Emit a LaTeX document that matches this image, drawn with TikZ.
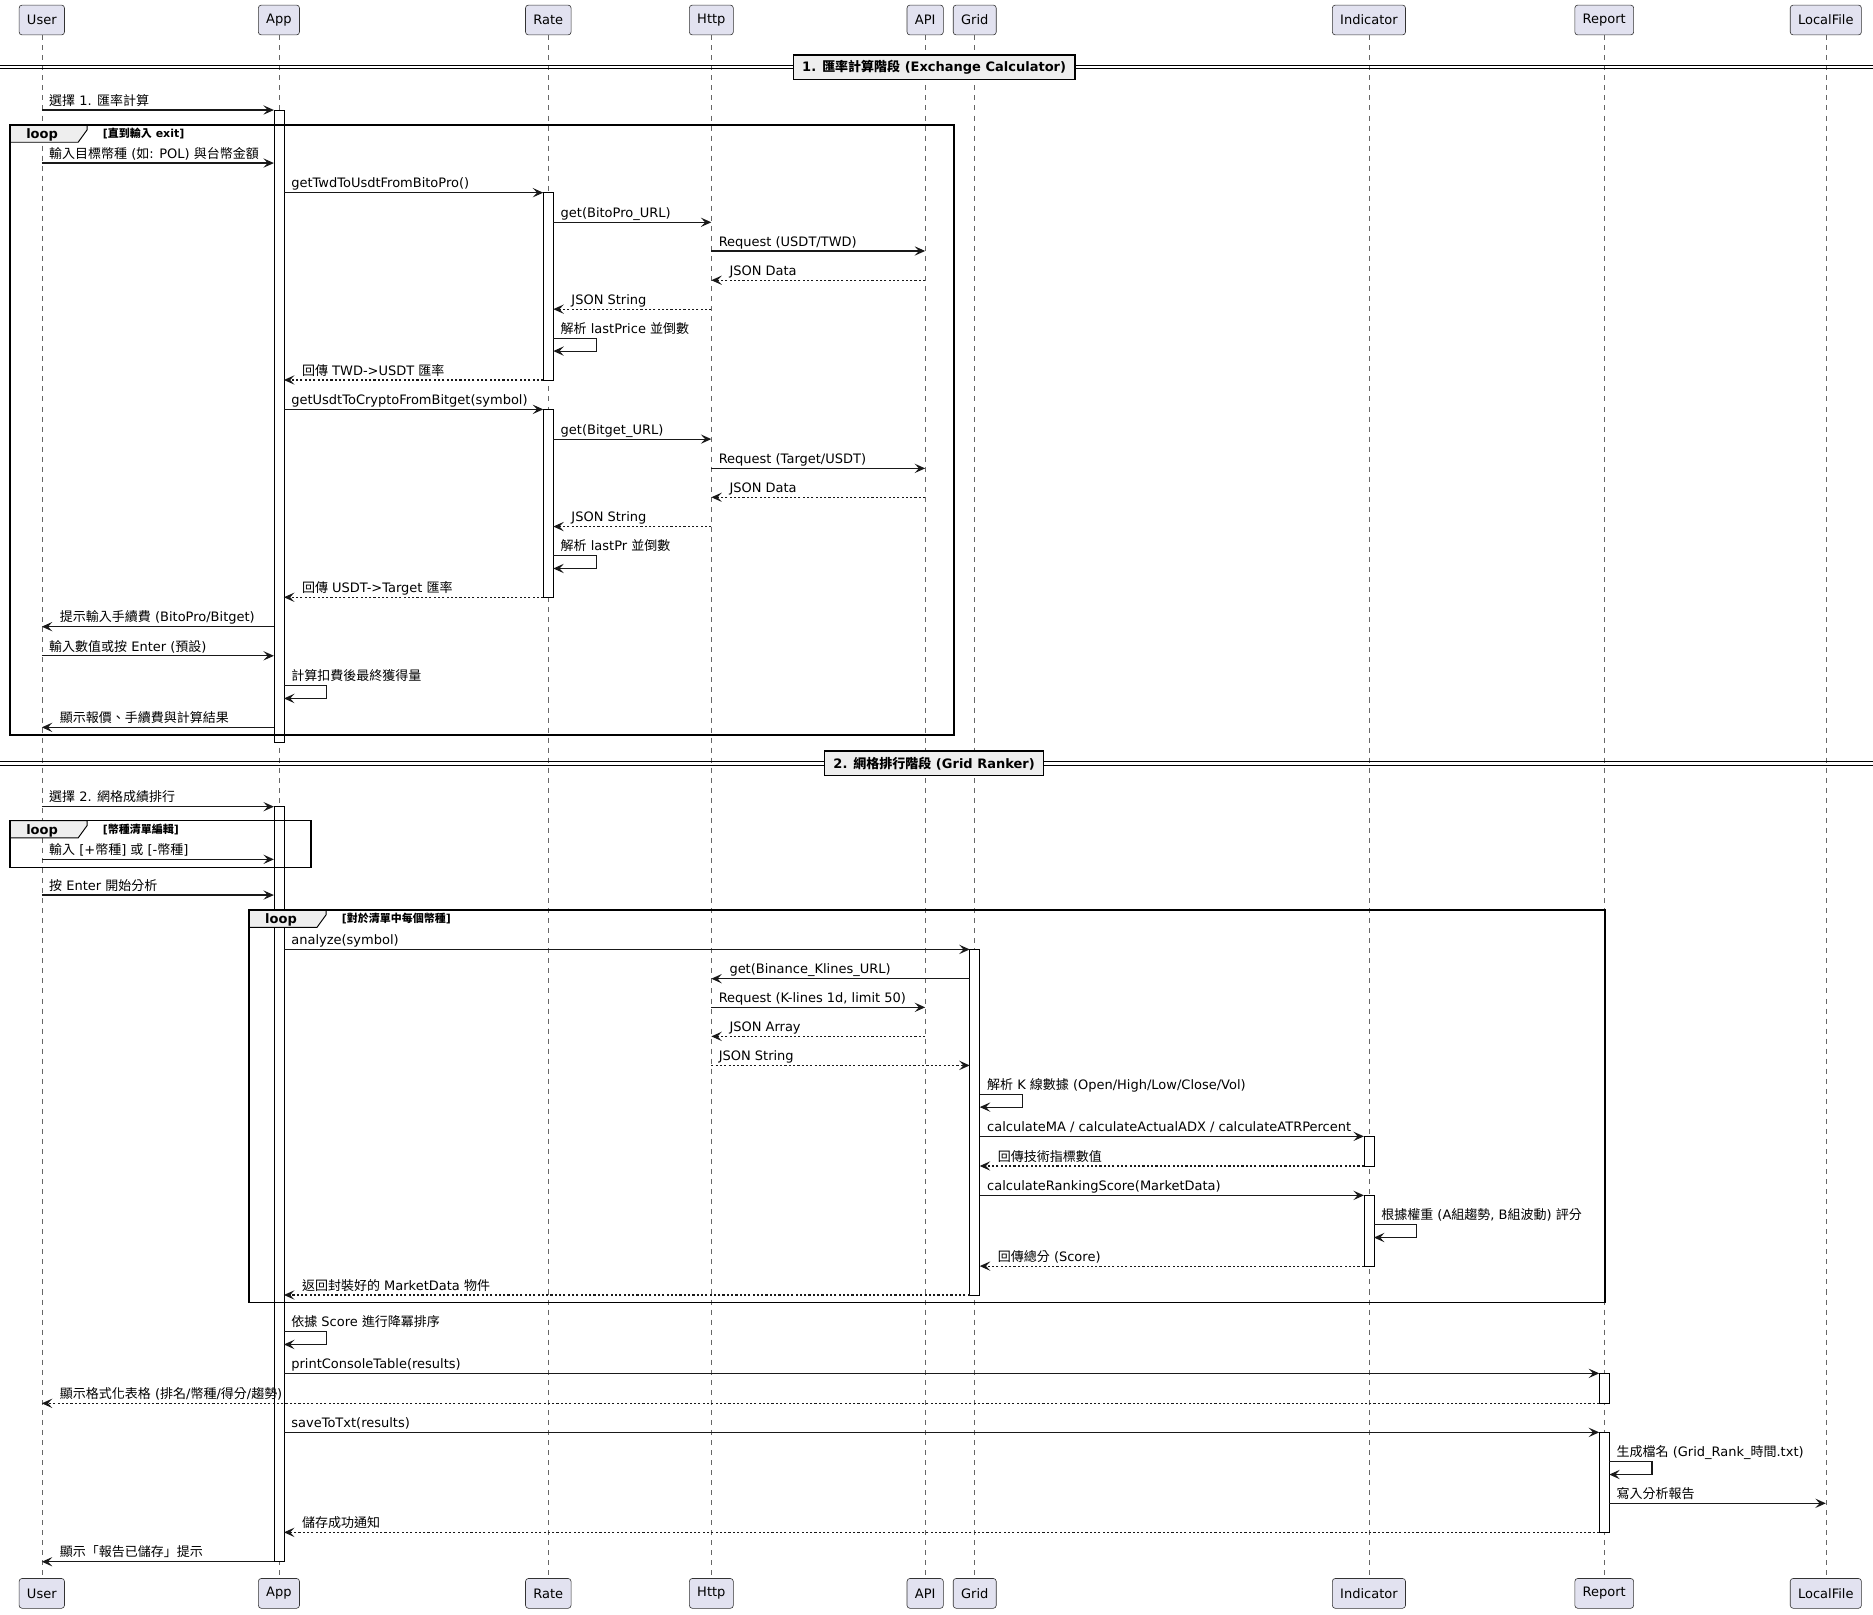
\documentclass[tikz,border=0pt]{standalone}
\usepackage{fontspec}
\setmainfont{DejaVu Sans}
\newfontfamily\zhfont{Noto Sans CJK TC}
\usetikzlibrary{arrows.meta,calc}
\definecolor{partfill}{HTML}{E2E2F0}
\definecolor{grpfill}{HTML}{EEEEEE}
\newcommand{\zh}[1]{{\zhfont #1}}
\newcommand{\msgsize}{\fontsize{10.88}{13}\selectfont}
\newcommand{\guardsize}{\fontsize{9.2}{11}\selectfont}
\newcounter{msgno}

\tikzset{
  participant/.style={draw=black!80, fill=partfill, rounded corners=2.5pt, line width=0.5pt,
    minimum height=25pt, inner xsep=6.6pt, inner ysep=0pt, font=\msgsize},
  lifeline/.style={draw=black!60, line width=0.45pt, dash pattern=on 4.2pt off 4.2pt},
  actbar/.style={draw=black, fill=white, line width=0.6pt},
  msg/.style={draw=black!90, line width=0.95pt, -{Stealth[length=8.8pt,width=7.8pt,inset=3.6pt]}},
  ret/.style={msg, dash pattern=on 1.8pt off 1.8pt},
  lbl/.style={anchor=base west, inner sep=0pt, font=\msgsize},
  grpframe/.style={draw=black, line width=1.2pt},
  grptab/.style={draw=black, fill=grpfill, line width=0.8pt},
  sepline/.style={draw=black, line width=0.9pt},
  sepbox/.style={draw=black, fill=grpfill, line width=1.2pt, minimum height=20.3pt,
    inner xsep=7.5pt, inner ysep=0pt, font=\msgsize\bfseries}
}

% message to the right: [style]{from}{offset}{to}{offset}{y}{label}
\newcommand{\rmsg}[7][msg]{%
  \stepcounter{msgno}%
  \draw[#1] ($(#2 |- 0,#6)+(#3,0)$) -- ($(#4 |- 0,#6)+(#5,0)$);
  \node[lbl] (m\themsgno) at ($(#2 |- 0,#6)+(#3+6,-4)$) {#7};
}
% message to the left
\newcommand{\lmsg}[7][msg]{%
  \stepcounter{msgno}%
  \draw[#1] ($(#2 |- 0,#6)+(#3,0)$) -- ($(#4 |- 0,#6)+(#5,0)$);
  \node[lbl] (m\themsgno) at ($(#4 |- 0,#6)+(#5+15,-4)$) {#7};
}
% self message: {node}{offset}{y}{label}
\newcommand{\selfmsg}[4]{%
  \stepcounter{msgno}%
  \draw[msg] ($(#1 |- 0,#3)+(#2,0)$) -- ++(35.8,0) -- ++(0,10.7) -- ++(-35.8,0);
  \node[lbl] (m\themsgno) at ($(#1 |- 0,#3)+(#2+6,-4)$) {#4};
}
\newcommand{\actbar}[3]{%
  \draw[actbar] ($(#1 |- 0,#2)+(-4.2,0)$) rectangle ($(#1 |- 0,#3)+(4.2,0)$);
}
% loop frame: {x1}{y1}{x2}{y2}{name}{guard}
\newcommand{\loopframe}[6]{%
  \draw[grptab] (#1,#2) -- ++(64.6,0) -- ++(0,4) -- ++(-7.6,10.5) -- ++(-57,0) -- cycle;
  \draw[grpframe] (#1,#2) rectangle (#3,#4);
  \node[lbl, font=\msgsize\bfseries] (#5-tag) at (#1+13.4,#2+11.4) {loop};
  \node[lbl, font=\guardsize\bfseries] (#5-guard) at (#1+77.6,#2+10.4) {#6};
}

\begin{document}
\begin{tikzpicture}[x=1pt, y=-1pt]
  \fill[white] (0,0) rectangle (1568,1352);
  \useasboundingbox (0,0) rectangle (1568,1352);

  % participants and lifelines
  \foreach \nm/\px/\txt in {u/35/User, a/233.5/App, r/459/Rate, h/595.5/Http, api/774.5/API,
      g/816/Grid, ind/1146/Indicator, rep/1343/Report, lf/1528.5/LocalFile}{
    \node[participant] (\nm) at (\px,16.75) {\txt};
    \node[participant] (\nm-bot) at (\px,1333.9) {\txt};
    \draw[lifeline] (\nm.south) -- (\nm-bot.north);
  }

  % activations
  \actbar{a}{92.1}{621.4}
  \actbar{r}{161.3}{318.1}
  \actbar{r}{342.7}{500}
  \actbar{a}{675.3}{1307.4}
  \actbar{g}{794.8}{1084.1}
  \actbar{ind}{951.3}{976.1}
  \actbar{ind}{1000.7}{1059.9}
  \actbar{rep}{1149.7}{1174.8}
  \actbar{rep}{1199.1}{1282.8}

  % groups
  \loopframe{8.4}{104.6}{798.7}{615.3}{loopa}{[\zh{直到輸入} exit]}
  \loopframe{8.4}{687}{260.2}{726.1}{loopb}{[\zh{幣種清單編輯}]}
  \loopframe{208.4}{761.8}{1343.5}{1090.3}{loopc}{[\zh{對於清單中每個幣種}]}

  % dividers
  \draw[sepline] (0,54.7) -- (1568,54.7);
  \draw[sepline] (0,57.7) -- (1568,57.7);
  \node[sepbox] (phase1) at (782,56.2) {1. \zh{匯率計算階段} (Exchange Calculator)};
  \draw[sepline] (0,637.5) -- (1568,637.5);
  \draw[sepline] (0,640.5) -- (1568,640.5);
  \node[sepbox] (phase2) at (782,639) {2. \zh{網格排行階段} (Grid Ranker)};

  % phase 1
  \rmsg{u}{0}{a}{-4.2}{92.1}{\zh{選擇} 1. \zh{匯率計算}}
  \rmsg{u}{0}{a}{-4.2}{136.5}{\zh{輸入目標幣種} (\zh{如}: POL) \zh{與台幣金額}}
  \rmsg{a}{4.2}{r}{-4.2}{161.3}{getTwdToUsdtFromBitoPro()}
  \rmsg{r}{4.2}{h}{0}{186.1}{get(BitoPro\_URL)}
  \rmsg{h}{0}{api}{0}{210.1}{Request (USDT/TWD)}
  \lmsg[ret]{api}{0}{h}{0}{234.6}{JSON Data}
  \lmsg[ret]{h}{0}{r}{4.2}{258.8}{JSON String}
  \selfmsg{r}{4.2}{283.2}{\zh{解析} lastPrice \zh{並倒數}}
  \lmsg[ret]{r}{-4.2}{a}{4.2}{318.1}{\zh{回傳} TWD->USDT \zh{匯率}}
  \rmsg{a}{4.2}{r}{-4.2}{342.7}{getUsdtToCryptoFromBitget(symbol)}
  \rmsg{r}{4.2}{h}{0}{367.6}{get(Bitget\_URL)}
  \rmsg{h}{0}{api}{0}{392.1}{Request (Target/USDT)}
  \lmsg[ret]{api}{0}{h}{0}{416.3}{JSON Data}
  \lmsg[ret]{h}{0}{r}{4.2}{440.8}{JSON String}
  \selfmsg{r}{4.2}{465.2}{\zh{解析} lastPr \zh{並倒數}}
  \lmsg[ret]{r}{-4.2}{a}{4.2}{500}{\zh{回傳} USDT->Target \zh{匯率}}
  \lmsg{a}{-4.2}{u}{0}{524.6}{\zh{提示輸入手續費} (BitoPro/Bitget)}
  \rmsg{u}{0}{a}{-4.2}{549}{\zh{輸入數值或按} Enter (\zh{預設})}
  \selfmsg{a}{4.2}{574}{\zh{計算扣費後最終獲得量}}
  \lmsg{a}{-4.2}{u}{0}{608.9}{\zh{顯示報價、手續費與計算結果}}

  % phase 2
  \rmsg{u}{0}{a}{-4.2}{675.3}{\zh{選擇} 2. \zh{網格成績排行}}
  \rmsg{u}{0}{a}{-4.2}{719.4}{\zh{輸入} [+\zh{幣種}] \zh{或} [-\zh{幣種}]}
  \rmsg{u}{0}{a}{-4.2}{749.3}{\zh{按} Enter \zh{開始分析}}
  \rmsg{a}{4.2}{g}{-4.2}{794.8}{analyze(symbol)}
  \lmsg{g}{-4.2}{h}{0}{819.3}{get(Binance\_Klines\_URL)}
  \rmsg{h}{0}{api}{0}{843.3}{Request (K-lines 1d, limit 50)}
  \lmsg[ret]{api}{0}{h}{0}{867.6}{JSON Array}
  \rmsg[ret]{h}{0}{g}{-4.2}{891.9}{JSON String}
  \selfmsg{g}{4.2}{916.1}{\zh{解析} K \zh{線數據} (Open/High/Low/Close/Vol)}
  \rmsg{g}{4.2}{ind}{-4.2}{951.3}{calculateMA / calculateActualADX / calculateATRPercent}
  \lmsg[ret]{ind}{-4.2}{g}{4.2}{976.1}{\zh{回傳技術指標數值}}
  \rmsg{g}{4.2}{ind}{-4.2}{1000.7}{calculateRankingScore(MarketData)}
  \selfmsg{ind}{4.2}{1025.3}{\zh{根據權重} (A\zh{組趨勢}, B\zh{組波動}) \zh{評分}}
  \lmsg[ret]{ind}{-4.2}{g}{4.2}{1059.9}{\zh{回傳總分} (Score)}
  \lmsg[ret]{g}{-4.2}{a}{4.2}{1084.1}{\zh{返回封裝好的} MarketData \zh{物件}}
  \selfmsg{a}{4.2}{1114.8}{\zh{依據} Score \zh{進行降冪排序}}
  \rmsg{a}{4.2}{rep}{-4.2}{1149.7}{printConsoleTable(results)}
  \lmsg[ret]{rep}{-4.2}{u}{0}{1174.8}{\zh{顯示格式化表格} (\zh{排名}/\zh{幣種}/\zh{得分}/\zh{趨勢})}
  \rmsg{a}{4.2}{rep}{-4.2}{1199.1}{saveToTxt(results)}
  \selfmsg{rep}{4.2}{1223.7}{\zh{生成檔名} (Grid\_Rank\_\zh{時間}.txt)}
  \rmsg{rep}{4.2}{lf}{0}{1258.5}{\zh{寫入分析報告}}
  \lmsg[ret]{rep}{-4.2}{a}{4.2}{1282.8}{\zh{儲存成功通知}}
  \lmsg{a}{-4.2}{u}{0}{1307.4}{\zh{顯示「報告已儲存」提示}}
\end{tikzpicture}
\end{document}
